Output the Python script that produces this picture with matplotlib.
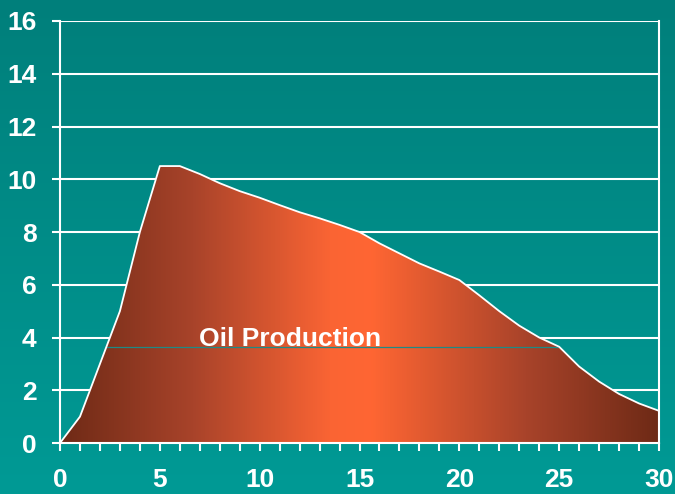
import matplotlib
matplotlib.use("Agg")
import matplotlib.pyplot as plt
import numpy as np
from matplotlib.colors import LinearSegmentedColormap

# oil production profile
years = list(range(0, 31))
production = [0.0, 1.0, 3.0, 5.0, 8.0, 10.5, 10.5, 10.2, 9.85, 9.55, 9.3,
              9.02, 8.75, 8.52, 8.27, 8.0, 7.57, 7.19, 6.81, 6.5, 6.18,
              5.6, 5.0, 4.45, 4.0, 3.65, 2.9, 2.33, 1.86, 1.5, 1.22]
x_ticks = [0, 5, 10, 15, 20, 25, 30]
y_ticks = [0, 2, 4, 6, 8, 10, 12, 14, 16]
label_text = "Oil Production"

plt.rcParams["font.family"] = ["Liberation Sans", "DejaVu Sans"]

fig = plt.figure(figsize=(6.75, 4.94), dpi=100)

# teal background, slightly lighter toward the bottom
bg = fig.add_axes([0, 0, 1, 1], zorder=-10)
bg_grad = np.linspace(0, 1, 256).reshape(-1, 1)
bg_cmap = LinearSegmentedColormap.from_list("bg", ["#007F7B", "#009A95"])
bg.imshow(bg_grad, aspect="auto", cmap=bg_cmap, extent=[0, 1, 0, 1])
bg.axis("off")

ax = fig.add_axes([0.0889, 0.1032, 0.8874, 0.8543])
ax.patch.set_alpha(0)
ax.set_xlim(0, 30)
ax.set_ylim(0, 16)

# gradient fill clipped to the production curve
fill_cmap = LinearSegmentedColormap.from_list(
    "oil", [(0.0, "#6E2A16"), (0.22, "#A8432A"), (0.45, "#FA6434"),
            (0.52, "#FF6633"), (0.78, "#A8432A"), (1.0, "#6E2A16")])
grad = np.linspace(0, 1, 512).reshape(1, -1)
img = ax.imshow(grad, aspect="auto", cmap=fill_cmap, extent=[0, 30, 0, 16],
                zorder=2, interpolation="bilinear")
poly = ax.fill_between(years, production, 0, facecolor="none", edgecolor="none")
img.set_clip_path(poly.get_paths()[0], transform=ax.transData)
ax.plot(years, production, color="white", lw=1.3, zorder=4)

# thin teal line through the fill
y_line = production[25]
x_start = np.interp(y_line, production[:6], years[:6])
ax.plot([x_start, 25], [y_line, y_line], color="#1E8A85", lw=0.9, zorder=3)

ax.text(11.5, 3.95, label_text, color="white", fontsize=19, fontweight="bold",
        ha="center", va="center", zorder=5)

for y in y_ticks[1:]:
    ax.axhline(y, color="white", lw=1.5, zorder=1)

for side in ["left", "bottom", "right"]:
    ax.spines[side].set_color("white")
    ax.spines[side].set_linewidth(1.5)
ax.spines["top"].set_visible(False)

ax.set_xticks(x_ticks)
ax.set_xticks(years, minor=True)
ax.set_yticks(y_ticks)
ax.tick_params(axis="both", colors="white", labelcolor="white", labelsize=19,
               width=1.5, length=6, direction="out")
ax.tick_params(axis="x", which="minor", colors="white", width=1.5, length=6)
ax.tick_params(axis="x", pad=12)
ax.tick_params(axis="y", pad=11)
for lbl in ax.get_xticklabels() + ax.get_yticklabels():
    lbl.set_fontweight("bold")

fig.savefig("out.png", dpi=100)
